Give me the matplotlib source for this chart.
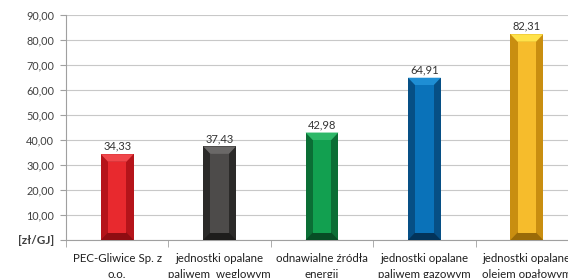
import matplotlib
matplotlib.use("Agg")
import matplotlib.pyplot as plt
from matplotlib.patches import Polygon
import numpy as np

categories = ["PEC-Gliwice Sp. z\no.o.", "jednostki opalane\npaliwem  weglowym",
              "odnawialne źródła\nenergii", "jednostki opalane\npaliwem gazowym",
              "jednostki opalane\nolejem opałowym"]
values = [34.33, 37.43, 42.98, 64.91, 82.31]
value_labels = ["34,33", "37,43", "42,98", "64,91", "82,31"]
yticks = [0, 10, 20, 30, 40, 50, 60, 70, 80, 90]
ytick_labels = ["[zł/GJ]", "10,00", "20,00", "30,00", "40,00", "50,00", "60,00", "70,00", "80,00", "90,00"]

colors_face = ["#E8292E", "#4D4B4A", "#12A050", "#0A72B9", "#F6BC2C"]
colors_side = ["#B5141A", "#2B2A29", "#0B6E35", "#064F85", "#C98E10"]
colors_top = ["#F0474B", "#6A6867", "#2DB868", "#1E8ED4", "#FFE24A"]
colors_bot = ["#8F0D12", "#1E1D1C", "#074D25", "#03345A", "#9A6B08"]

plt.rcParams['font.family'] = ['Lato', 'DejaVu Sans']

fig = plt.figure(figsize=(5.68, 2.78), dpi=100)
ax = fig.add_axes([66/568, 1-240/278, 512/568, 225/278])

x = np.arange(len(values))
w = 0.32
dx = 0.07
dy = 3.0
ax.bar(x, values, width=w, color=colors_side, zorder=3, linewidth=0)
for i, v in enumerate(values):
    l, r = x[i]-w/2, x[i]+w/2
    ax.add_patch(Polygon([(l, v), (r, v), (r-dx, v-dy), (l+dx, v-dy)], closed=True,
                         facecolor=colors_top[i], lw=0, zorder=4))
    ax.add_patch(Polygon([(l, 0), (r, 0), (r-dx, dy), (l+dx, dy)], closed=True,
                         facecolor=colors_bot[i], lw=0, zorder=4))
    ax.bar(x[i], v-2*dy, bottom=dy, width=w-2*dx, color=colors_face[i], zorder=5, linewidth=0)
    ax.text(x[i], v+1.0, value_labels[i], ha='center', va='bottom', fontsize=8, color='#333333')

ax.set_xlim(-0.5, len(values)-0.5)
ax.set_ylim(0, 90)
ax.set_yticks(yticks)
ax.set_yticklabels(ytick_labels, fontsize=7.8, color='#404040')
ax.get_yticklabels()[0].set_fontweight('bold')
ax.get_yticklabels()[0].set_fontsize(8.5)
ax.tick_params(axis='y', length=4, color='#A0A0A0', pad=4.5)
ax.set_xticks(x)
ax.set_xticklabels(categories, fontsize=8.3, color='#202020', linespacing=1.6)
ax.set_xticks(np.arange(-0.5, len(values)), minor=True)
ax.tick_params(axis='x', which='major', length=0, pad=9)
ax.tick_params(axis='x', which='minor', length=5, color='#A0A0A0')
ax.grid(axis='y', color='#C8C8C8', linewidth=0.8, zorder=0)
ax.set_axisbelow(True)
for s in ['top', 'right']:
    ax.spines[s].set_visible(False)
ax.spines['left'].set_color('#A0A0A0')
ax.spines['bottom'].set_color('#A0A0A0')

fig.savefig("out.png", dpi=100)
